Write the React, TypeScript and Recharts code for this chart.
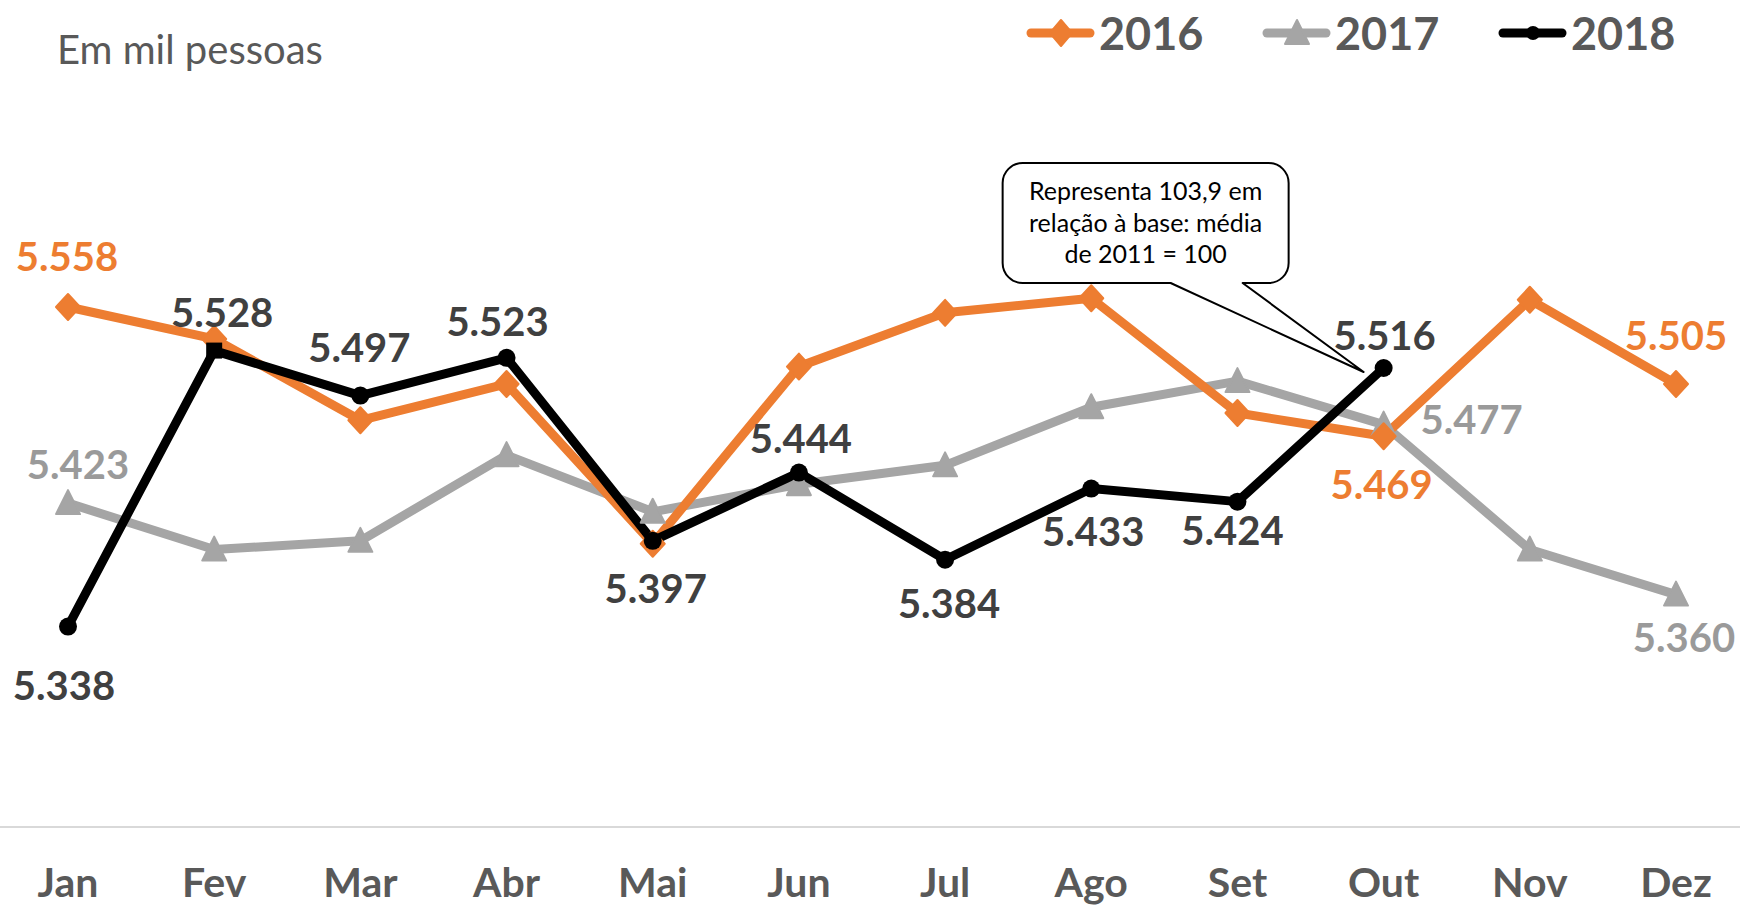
import React from "react";
import { LineChart, Line, XAxis, YAxis, LabelList } from "recharts";

const MESES = ["Jan", "Fev", "Mar", "Abr", "Mai", "Jun", "Jul", "Ago", "Set", "Out", "Nov", "Dez"];
const SERIE_2016 = [5.558, 5.536, 5.48, 5.505, 5.395, 5.517, 5.554, 5.564, 5.485, 5.469, 5.563, 5.505];
const SERIE_2017 = [5.423, 5.391, 5.397, 5.456, 5.417, 5.436, 5.449, 5.489, 5.507, 5.477, 5.391, 5.36];
const SERIE_2018 = [5.338, 5.528, 5.497, 5.523, 5.397, 5.444, 5.384, 5.433, 5.424, 5.516, null, null];
const ANOS = ["2016", "2017", "2018"];

const TITULO = "Em mil pessoas";
const BALAO_TEXTO = ["Representa 103,9 em", "relação à base: média", "de 2011 = 100"];
const BALAO_INDICE = 9;

const W = 1740;
const H = 907;
const FONTE = "Lato, 'Open Sans', sans-serif";
const CORES = ["#ED7D31", "#A5A5A5", "#000000"];
const COR_TEXTO = "#595959";

const dados = MESES.map((mes, i) => ({
  mes,
  a2016: SERIE_2016[i],
  a2017: SERIE_2017[i],
  a2018: SERIE_2018[i],
}));

// deslocamento (dx, dy) do centro do rótulo em relação ao ponto
const ROT_2016: Record<number, [number, number]> = { 0: [-1, -50], 9: [-2, 49], 11: [0, -48] };
const ROT_2017: Record<number, [number, number]> = { 0: [10, -38], 9: [88, -5], 11: [8, 43] };
const ROT_2018: Record<number, [number, number]> = {
  0: [-4, 59], 1: [8, -38], 2: [-1, -48], 3: [-9, -36], 4: [3, 48],
  5: [2, -34], 6: [4, 44], 7: [2, 43], 8: [-5, 29], 9: [1, -32],
};

function Marcador({ serie, cx, cy, index, legenda = false }: any) {
  const cor = CORES[serie];
  if (serie === 0) {
    const a = legenda ? 11 : 12;
    const b = 13;
    return (
      <polygon
        points={`${cx},${cy - b} ${cx + a},${cy} ${cx},${cy + b} ${cx - a},${cy}`}
        fill={cor} stroke={cor} strokeWidth={2} strokeLinejoin="round"
      />
    );
  }
  if (serie === 1) {
    return (
      <polygon
        points={`${cx},${cy - 13} ${cx + 12},${cy + 11} ${cx - 12},${cy + 11}`}
        fill={cor} stroke={cor} strokeWidth={2} strokeLinejoin="round"
      />
    );
  }
  if (!legenda && index === 1) {
    return <rect x={cx - 8} y={cy - 8} width={16} height={16} fill={cor} />;
  }
  return <circle cx={cx} cy={cy} r={legenda ? 7 : 9} fill={cor} />;
}

function ponto(serie: number) {
  return (p: any) => {
    const { cx, cy, index } = p;
    if (cx == null || cy == null || p.value == null) return <g key={`v${serie}-${index}`} />;
    return (
      <g key={`m${serie}-${index}`}>
        <Marcador serie={serie} cx={cx} cy={cy} index={index} />
      </g>
    );
  };
}

function Balao({ x, y }: { x: number; y: number }) {
  const l = x - 381, r = x - 95, t = y - 205, b = y - 85, k = 20;
  const d =
    `M${l + k},${t} H${r - k} A${k},${k} 0 0 1 ${r},${t + k} V${b - k} ` +
    `A${k},${k} 0 0 1 ${r - k},${b} H${x - 141} L${x - 20},${y + 4} L${x - 213},${b} ` +
    `H${l + k} A${k},${k} 0 0 1 ${l},${b - k} V${t + k} A${k},${k} 0 0 1 ${l + k},${t} Z`;
  const cx = (l + r) / 2;
  return (
    <g>
      <path d={d} fill="#fff" stroke="#000" strokeWidth={2} strokeLinejoin="round" />
      {BALAO_TEXTO.map((linha, i) => (
        <text key={i} x={cx} y={y - 168 + i * 31.5} textAnchor="middle"
          fontFamily={FONTE} fontSize={25} fill="#000">
          {linha}
        </text>
      ))}
    </g>
  );
}

function rotulo(desloc: Record<number, [number, number]>, cor: string, comBalao = false) {
  return (props: any) => {
    const { index, value } = props;
    const x = props.x ?? props.viewBox?.x;
    const y = props.y ?? props.viewBox?.y;
    const d = desloc[index];
    if (!d || value == null || x == null || y == null) return null;
    return (
      <g key={`r-${index}`}>
        {comBalao && index === BALAO_INDICE && <Balao x={x} y={y} />}
        <text x={x + d[0]} y={y + d[1] + 14} textAnchor="middle"
          fontFamily={FONTE} fontWeight={700} fontSize={40} fill={cor}>
          {Number(value).toFixed(3)}
        </text>
      </g>
    );
  };
}

function TickMes({ x, y, payload }: any) {
  return (
    <text x={x} y={y + 70} textAnchor="middle" fontFamily={FONTE}
      fontWeight={700} fontSize={41} fill={COR_TEXTO}>
      {payload.value}
    </text>
  );
}

export default function App() {
  return (
    <div style={{ position: "absolute", left: 0, top: 0, width: W, height: H, background: "#fff" }}>
      <LineChart width={W} height={H} data={dados} margin={{ top: 246, right: 0, bottom: 0, left: 0 }}>
        <XAxis
          dataKey="mes"
          interval={0}
          height={80}
          padding={{ left: 68, right: 64 }}
          axisLine={{ stroke: "#D9D9D9", strokeWidth: 2 }}
          tickLine={false}
          tickSize={0}
          tickMargin={0}
          tick={<TickMes />}
        />
        <YAxis hide type="number" domain={[5.2, 5.6]} />
        <Line dataKey="a2017" type="linear" stroke={CORES[1]} strokeWidth={9} strokeLinejoin="round"
          dot={ponto(1)} activeDot={false} isAnimationActive={false}>
          <LabelList dataKey="a2017" content={rotulo(ROT_2017, "#9A9A9A")} />
        </Line>
        <Line dataKey="a2016" type="linear" stroke={CORES[0]} strokeWidth={9} strokeLinejoin="round"
          dot={ponto(0)} activeDot={false} isAnimationActive={false}>
          <LabelList dataKey="a2016" content={rotulo(ROT_2016, CORES[0])} />
        </Line>
        <Line dataKey="a2018" type="linear" stroke={CORES[2]} strokeWidth={9} strokeLinejoin="round"
          dot={ponto(2)} activeDot={false} isAnimationActive={false}>
          <LabelList dataKey="a2018" content={rotulo(ROT_2018, "#404040", true)} />
        </Line>
      </LineChart>
      <svg width={W} height={H} style={{ position: "absolute", left: 0, top: 0, pointerEvents: "none" }}>
        <text x={57} y={64} fontFamily={FONTE} fontSize={40} fill={COR_TEXTO}>{TITULO}</text>
        {ANOS.map((ano, i) => {
          const x0 = 1026 + i * 236;
          return (
            <g key={ano}>
              <line x1={x0 + 5} x2={x0 + 64} y1={33} y2={33} stroke={CORES[i]} strokeWidth={9} strokeLinecap="round" />
              <Marcador serie={i} cx={x0 + 35} cy={33} legenda />
              <text x={x0 + 73} y={50} fontFamily={FONTE} fontWeight={700} fontSize={45} fill={COR_TEXTO}>{ano}</text>
            </g>
          );
        })}
      </svg>
    </div>
  );
}
